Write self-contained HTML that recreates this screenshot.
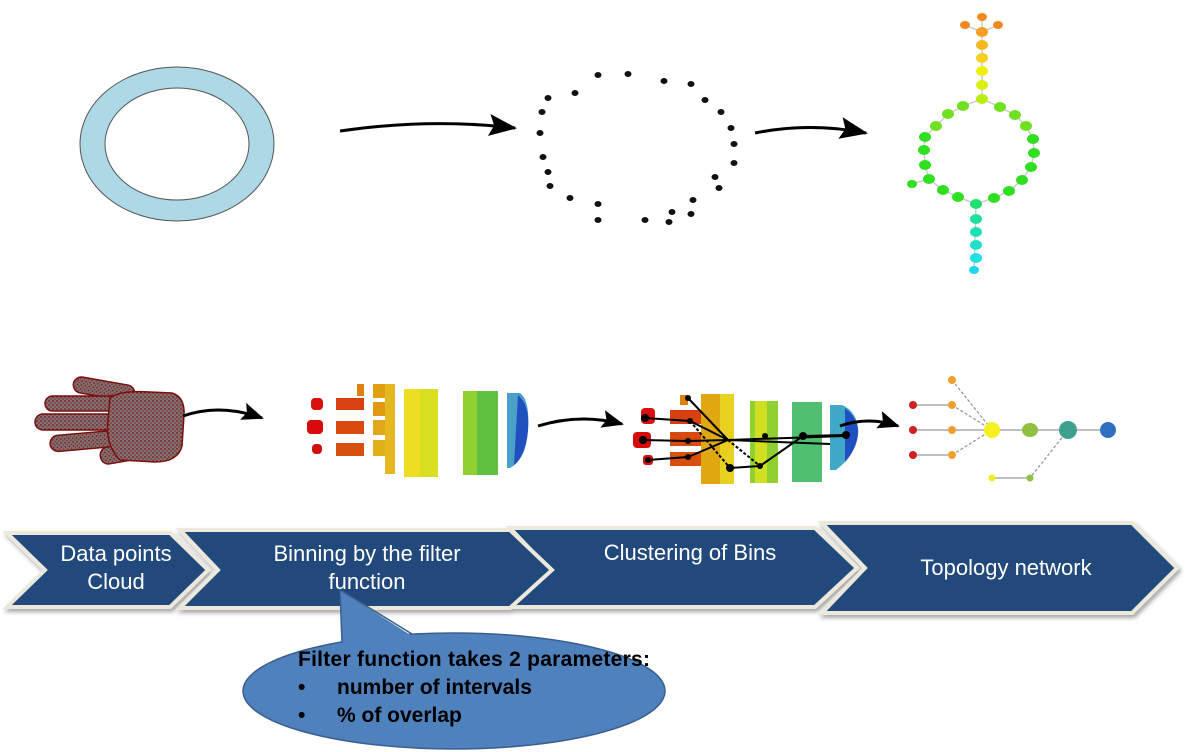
<!DOCTYPE html>
<html><head><meta charset="utf-8"><style>
html,body{margin:0;padding:0;background:#fff;}
svg{display:block;}
text{font-family:"Liberation Sans",sans-serif;}
</style></head><body>
<svg width="1189" height="752" viewBox="0 0 1189 752" xmlns="http://www.w3.org/2000/svg">
<defs>
<marker id="ahb" markerWidth="28" markerHeight="22" refX="26" refY="11" orient="auto" markerUnits="userSpaceOnUse"><path d="M0,0 L28,11 L0,22 L5,11 z" fill="#000"/></marker>
<marker id="ahs" markerWidth="22" markerHeight="18" refX="20" refY="9" orient="auto" markerUnits="userSpaceOnUse"><path d="M0,0 L22,9 L0,18 L4,9 z" fill="#000"/></marker>
<pattern id="dots" width="4" height="4" patternUnits="userSpaceOnUse"><rect width="4" height="4" fill="#7c7474"/><circle cx="1" cy="1" r="0.9" fill="#8b1010"/><circle cx="3" cy="3" r="0.7" fill="#961515"/></pattern>
<filter id="sh"><feDropShadow dx="2" dy="3" stdDeviation="2" flood-color="#000" flood-opacity="0.35"/></filter>
</defs>

<path fill-rule="evenodd" fill="#add8e6" stroke="#555" stroke-width="1" d="M80,144 a97,77 0 1,0 194,0 a97,77 0 1,0 -194,0 Z M105,144 a72,56 0 1,0 144,0 a72,56 0 1,0 -144,0 Z"/>

<path d="M340,131 Q430,118 515,128" fill="none" stroke="#000" stroke-width="3" marker-end="url(#ahb)"/>
<path d="M755,133 Q810,122 866,133" fill="none" stroke="#000" stroke-width="3" marker-end="url(#ahb)"/>

<g fill="#111">
<ellipse cx="598" cy="75" rx="3.5" ry="3"/><ellipse cx="628" cy="74" rx="3.5" ry="3"/><ellipse cx="664" cy="81" rx="3.5" ry="3"/><ellipse cx="691" cy="84" rx="3.5" ry="3"/><ellipse cx="575" cy="93" rx="3.5" ry="3"/><ellipse cx="548" cy="98" rx="3.5" ry="3"/><ellipse cx="705" cy="100" rx="3.5" ry="3"/><ellipse cx="721" cy="112" rx="3.5" ry="3"/><ellipse cx="542" cy="112" rx="3.5" ry="3"/><ellipse cx="731" cy="128" rx="3.5" ry="3"/><ellipse cx="540" cy="133" rx="3.5" ry="3"/><ellipse cx="734" cy="144" rx="3.5" ry="3"/><ellipse cx="543" cy="157" rx="3.5" ry="3"/><ellipse cx="734" cy="163" rx="3.5" ry="3"/><ellipse cx="548" cy="172" rx="3.5" ry="3"/><ellipse cx="715" cy="177" rx="3.5" ry="3"/><ellipse cx="550" cy="186" rx="3.5" ry="3"/><ellipse cx="719" cy="188" rx="3.5" ry="3"/><ellipse cx="570" cy="198" rx="3.5" ry="3"/><ellipse cx="598" cy="204" rx="3.5" ry="3"/><ellipse cx="693" cy="200" rx="3.5" ry="3"/><ellipse cx="672" cy="212" rx="3.5" ry="3"/><ellipse cx="598" cy="220" rx="3.5" ry="3"/><ellipse cx="645" cy="220" rx="3.5" ry="3"/><ellipse cx="669" cy="222" rx="3.5" ry="3"/><ellipse cx="691" cy="214" rx="3.5" ry="3"/>
</g>

<g stroke="#ccc" stroke-width="1.5" fill="none">
<path d="M965,25 L982,32 L998,25 M982,17 L982,99 L963,106 L948,114 L936,126 L925,137 L924,150 L925,165 L929,179 L943,190 L958,197 L976,204 L994,198 L1009,191 L1022,180 L1031,167 L1034,153 L1033,139 L1026,126 L1015,115 L1000,107 L982,99 M929,179 L912,184 M976,204 L974,270"/>
</g>
<g>
<ellipse cx="982" cy="17" rx="5" ry="4" fill="#f08a20"/><ellipse cx="965" cy="25" rx="5" ry="4" fill="#f08a20"/><ellipse cx="998" cy="25" rx="5" ry="4" fill="#f08a20"/>
<ellipse cx="982" cy="32" rx="6" ry="5" fill="#f5a020"/><ellipse cx="982" cy="45" rx="6" ry="5" fill="#f5b820"/><ellipse cx="982" cy="58" rx="6" ry="5" fill="#f5d020"/><ellipse cx="982" cy="71" rx="6" ry="5" fill="#f0f010"/><ellipse cx="982" cy="85" rx="6" ry="5" fill="#d8f010"/><ellipse cx="982" cy="99" rx="6" ry="5" fill="#b8ee10"/>
<g fill="#70e020"><ellipse cx="963" cy="106" rx="6" ry="5"/><ellipse cx="1000" cy="107" rx="6" ry="5"/><ellipse cx="948" cy="114" rx="6" ry="5"/><ellipse cx="1015" cy="115" rx="6" ry="5"/><ellipse cx="936" cy="126" rx="6" ry="5"/><ellipse cx="1026" cy="126" rx="6" ry="5"/></g>
<g fill="#30e020"><ellipse cx="925" cy="137" rx="6" ry="5"/><ellipse cx="1033" cy="139" rx="6" ry="5"/><ellipse cx="924" cy="150" rx="6" ry="5"/><ellipse cx="1034" cy="153" rx="6" ry="5"/><ellipse cx="925" cy="165" rx="6" ry="5"/><ellipse cx="1031" cy="167" rx="6" ry="5"/><ellipse cx="929" cy="179" rx="6" ry="5"/><ellipse cx="1022" cy="180" rx="6" ry="5"/><ellipse cx="912" cy="184" rx="5" ry="4"/><ellipse cx="943" cy="190" rx="6" ry="5"/><ellipse cx="1009" cy="191" rx="6" ry="5"/><ellipse cx="958" cy="197" rx="6" ry="5"/><ellipse cx="994" cy="198" rx="6" ry="5"/></g>
<ellipse cx="976" cy="204" rx="6" ry="5" fill="#20e070"/><ellipse cx="976" cy="219" rx="6" ry="5" fill="#20e0a0"/><ellipse cx="976" cy="232" rx="6" ry="5" fill="#20e0b8"/><ellipse cx="976" cy="245" rx="6" ry="5" fill="#20e0c8"/><ellipse cx="976" cy="258" rx="6" ry="5" fill="#20e0e0"/><ellipse cx="974" cy="270" rx="5" ry="4" fill="#20d8f0"/>
</g>

<g fill="url(#dots)" stroke="#7a0e0e" stroke-width="1.5">
<rect x="73" y="381" width="62" height="16" rx="8" transform="rotate(10 104 389)"/>
<rect x="45" y="396" width="75" height="15" rx="7.5"/>
<rect x="35" y="414" width="80" height="16" rx="8"/>
<rect x="50" y="433" width="70" height="16" rx="8" transform="rotate(-5 85 441)"/>
<rect x="100" y="444" width="50" height="17" rx="8" transform="rotate(-10 125 452)"/>
<path d="M110,398 Q120,390 150,392 L172,393 Q185,397 184,415 L182,446 Q178,462 155,462 L120,460 Q105,445 108,420 Z"/>
</g>

<path d="M183,416 Q220,403 262,418" fill="none" stroke="#000" stroke-width="3" marker-end="url(#ahs)"/>

<g>
<rect x="311" y="398" width="12" height="12" rx="4" fill="#d81010"/>
<rect x="307" y="420" width="16" height="14" rx="4" fill="#d80a0a"/>
<rect x="312" y="444" width="10" height="10" rx="4" fill="#d01010"/>
<rect x="336" y="398" width="28" height="12" fill="#d84010"/>
<rect x="336" y="421" width="28" height="13" fill="#d84a10"/>
<rect x="336" y="443" width="28" height="13" fill="#d85010"/>
<rect x="357" y="384" width="7" height="12" fill="#e08010"/>
<rect x="373" y="384" width="20" height="14" fill="#e0a010"/>
<rect x="373" y="402" width="22" height="14" fill="#e09a10"/>
<rect x="373" y="420" width="22" height="15" fill="#e0a818"/>
<rect x="373" y="440" width="22" height="16" fill="#e0b018"/>
<rect x="385" y="384" width="10" height="90" fill="#e6b820"/>
<rect x="404" y="389" width="34" height="88" fill="#d8e020"/>
<rect x="404" y="389" width="16" height="88" fill="#eedd20"/>
<rect x="463" y="391" width="35" height="84" fill="#60c040"/>
<rect x="463" y="391" width="14" height="84" fill="#90d030"/>
<path d="M507,393 L520,393 Q530,400 528,430 Q526,460 510,468 L507,468 Z" fill="#4aa0c8"/>
<path d="M518,395 Q530,405 528,430 Q526,455 514,465 Z" fill="#2050c0"/>
</g>

<path d="M538,426 Q580,413 622,424" fill="none" stroke="#000" stroke-width="3" marker-end="url(#ahs)"/>

<g>
<rect x="641" y="408" width="14" height="16" rx="4" fill="#d81010"/>
<rect x="633" y="432" width="18" height="16" rx="4" fill="#d80a0a"/>
<rect x="643" y="455" width="10" height="10" rx="3" fill="#d01010"/>
<rect x="670" y="410" width="32" height="14" fill="#d84010"/>
<rect x="670" y="432" width="32" height="14" fill="#d84a10"/>
<rect x="670" y="452" width="32" height="14" fill="#d85010"/>
<rect x="680" y="395" width="8" height="10" fill="#e08010"/>
<rect x="701" y="394" width="32" height="90" fill="#e0a810"/>
<rect x="720" y="394" width="14" height="90" fill="#e8d020"/>
<rect x="736" y="402" width="3" height="80" fill="#fff"/>
<rect x="750" y="401" width="28" height="82" fill="#90d030"/>
<rect x="755" y="401" width="12" height="82" fill="#d0e020"/>
<rect x="792" y="402" width="30" height="80" fill="#50c070"/>
<path d="M830,405 L842,405 Q858,412 858,432 Q856,455 836,470 L830,470 Z" fill="#40a8c8"/>
<path d="M845,408 Q860,420 858,435 Q856,450 845,462 Z" fill="#2050c0"/>
<g stroke="#000" stroke-width="2" fill="none">
<path d="M645,418 L690,421 L728,440 M643,440 L688,441 L728,440 L830,444 M648,460 L688,457 L728,440 M688,398 L728,440 M730,468 L760,466 L803,436 L846,435 M728,440 L845,436"/>
<path d="M728,440 L760,466 M690,421 L730,468" stroke-dasharray="3,2"/>
</g>
<g fill="#000"><circle cx="645" cy="418" r="4"/><circle cx="643" cy="440" r="4"/><circle cx="648" cy="460" r="3"/><circle cx="690" cy="421" r="3"/><circle cx="688" cy="441" r="3"/><circle cx="688" cy="457" r="3"/><circle cx="688" cy="398" r="3"/><circle cx="730" cy="468" r="4"/><circle cx="760" cy="466" r="3"/><circle cx="803" cy="436" r="4"/><circle cx="846" cy="435" r="4"/><circle cx="765" cy="436" r="3"/></g>
</g>

<path d="M840,426 Q868,416 898,426" fill="none" stroke="#000" stroke-width="3" marker-end="url(#ahs)"/>

<g stroke="#999" stroke-width="1.3" fill="none">
<path d="M952,405 L992,430 M952,455 L992,430 M952,380 L992,430 M1068,430 L1030,478" stroke-dasharray="3,2"/>
<path d="M913,405 L952,405 M913,430 L1108,430 M913,455 L952,455 M992,478 L1030,478"/>
</g>
<g>
<circle cx="952" cy="380" r="4" fill="#f0a030"/><circle cx="913" cy="405" r="4" fill="#d02020"/><circle cx="952" cy="405" r="4" fill="#f0a030"/><circle cx="913" cy="430" r="4" fill="#d02020"/><circle cx="952" cy="430" r="4" fill="#f0a030"/><circle cx="913" cy="455" r="4" fill="#d02020"/><circle cx="952" cy="455" r="4" fill="#f0a030"/>
<circle cx="992" cy="430" r="8" fill="#f5f020"/><ellipse cx="1030" cy="430" rx="8" ry="7" fill="#90c040"/><circle cx="1068" cy="430" r="9" fill="#40a090"/><circle cx="1108" cy="430" r="8" fill="#3070c0"/>
<circle cx="992" cy="478" r="3.5" fill="#f0f020"/><circle cx="1030" cy="478" r="3.5" fill="#90c040"/>
</g>

<g filter="url(#sh)" stroke="#ece9dc" stroke-width="4" fill="#214a7c" stroke-linejoin="miter">
<path d="M822,523 L1132,523 L1177,568 L1132,613 L822,613 L865,568 Z"/>
<path d="M510,528 L815,528 L857,568 L815,607 L510,607 L548,568 Z"/>
<path d="M180,530 L510,530 L552,570 L510,608 L180,608 L218,570 Z"/>
<path d="M7,533 L170,533 L208,570 L170,607 L7,607 L45,570 Z"/>
</g>
<g fill="#fff" font-size="22" text-anchor="middle">
<text x="116" y="561">Data points</text><text x="116" y="589">Cloud</text>
<text x="367" y="561">Binning by the filter</text><text x="367" y="589">function</text>
<text x="690" y="560">Clustering of Bins</text>
<text x="1006" y="575">Topology network</text>
</g>

<!-- callout -->
<ellipse cx="454" cy="691" rx="211" ry="58" fill="#4f81bd" stroke="#3a5f8f" stroke-width="1.5"/>
<path d="M340,590 L342,652 L420,646 L412,636 Z" fill="#4f81bd"/>
<path d="M342,643 L340,590 L412,634" fill="none" stroke="#3a5f8f" stroke-width="1.5"/>
<g font-size="21" font-weight="bold" fill="#000">
<text x="298" y="666" textLength="352">Filter function takes  2 parameters:</text>
<text x="298" y="694">•</text><text x="337" y="694">number of intervals</text>
<text x="298" y="722">•</text><text x="337" y="722">% of overlap</text>
</g>
</svg>
</body></html>
